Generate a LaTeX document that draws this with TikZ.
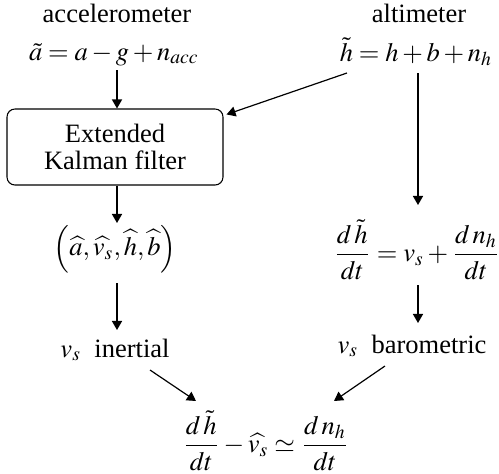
\documentclass[tikz,border=0pt]{standalone}
\usepackage{mathptmx}
\usepackage{fontspec}
\setmainfont{Liberation Serif}
\usetikzlibrary{arrows.meta}
\begin{document}
\begin{tikzpicture}[x=0.3774pt,y=-0.3774pt,
  txt/.style={inner sep=0pt, anchor=base},
  mth/.style={inner sep=0pt},
  box/.style={draw, rounded corners=3pt, minimum width=216*0.3774pt, minimum height=76*0.3774pt, align=center, inner sep=0pt},
  arr/.style={-{Triangle[length=3.4pt,width=3.8pt]}, line width=0.45pt}]
\useasboundingbox (0,0) rectangle (499,474);
\node[txt] (acc) at (117,22) {accelerometer};
\node[txt] (acceq) at (114,60) {$\tilde{a} = a - g + n_{acc}$};
\node[txt] (alt) at (419,22) {altimeter};
\node[txt] (alteq) at (416,61) {$\tilde{h} = h + b + n_h$};
\node[box] (ekf) at (115,147) {Extended\\[-1.6pt]Kalman filter};
\node[mth] (tuple) at (115,249) {$\Bigl(\widehat{a}, \widehat{v_s}, \widehat{h}, \widehat{b}\Bigr)$};
\node[mth] (dh) at (417,250) {$\displaystyle \frac{d\,\tilde{h}}{dt} = v_s + \frac{d\,n_h}{dt}$};
\node[txt] (vsi) at (115,357) {$v_s$\ \ inertial};
\node[txt] (vsb) at (412,353) {$v_s$\ \ barometric};
\node[mth] (bot) at (266,441) {$\displaystyle \frac{d\,\tilde{h}}{dt} - \widehat{v_s} \simeq \frac{d\,n_h}{dt}$};
\draw[arr] ([shift={(3,10)}]acceq.base) -- ([shift={(2,0)}]ekf.north);
\draw[arr] ([shift={(-69,12)}]alteq.base) -- ([shift={(3,6)}]ekf.north east);
\draw[arr] ([shift={(2,12)}]alteq.base) -- ([shift={(1,-45)}]dh.center);
\draw[arr] ([shift={(2,0)}]ekf.south) -- ([shift={(2,-26)}]tuple.center);
\draw[arr] ([shift={(2,34)}]tuple.center) -- ([shift={(2,-27)}]vsi.base);
\draw[arr] ([shift={(1,35)}]dh.center) -- ([shift={(6,-30)}]vsb.base);
\draw[arr] ([shift={(35,13)}]vsi.base) -- ([shift={(-70,-40)}]bot.center);
\draw[arr] ([shift={(-27,13)}]vsb.base) -- ([shift={(68,-40)}]bot.center);
\end{tikzpicture}
\end{document}
